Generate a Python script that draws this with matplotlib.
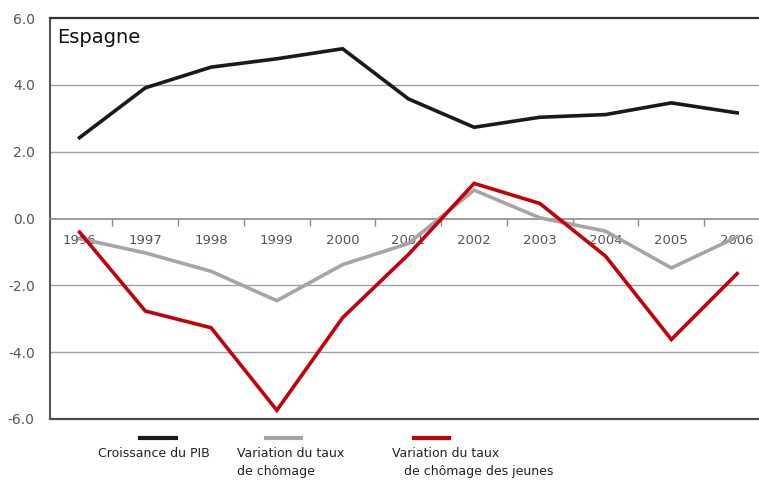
import matplotlib
matplotlib.use("Agg")
import matplotlib.pyplot as plt
from matplotlib.lines import Line2D
import numpy as np

# data
years = ["1996", "1997", "1998", "1999", "2000", "2001",
         "2002", "2003", "2004", "2005", "2006"]
pib = [2.42, 3.91, 4.53, 4.78, 5.08, 3.58, 2.73, 3.03, 3.11, 3.46, 3.16]
chomage = [-0.60, -1.03, -1.58, -2.46, -1.38, -0.75, 0.85, 0.02, -0.38, -1.48, -0.55]
chomage_jeunes = [-0.41, -2.77, -3.27, -5.74, -2.97, -1.08, 1.05, 0.45, -1.13, -3.62, -1.65]

series_labels = ["Croissance du PIB", "Variation du taux\nde chômage",
                 "Variation du taux\n   de chômage des jeunes"]
colors = ["#1a1a1a", "#aaa3a3", "#c4000b"]

W, H = 759, 480
fig = plt.figure(figsize=(W / 100, H / 100), dpi=100)
ax = fig.add_axes([50 / W, (H - 419) / H, 720 / W, 401 / H])

x = np.arange(len(years))
for vals, c in zip([pib, chomage, chomage_jeunes], colors):
    ax.plot(x, vals, color=c, lw=2.6, solid_joinstyle="miter", zorder=3)

ax.set_xlim(-0.45, 10.5)
ax.set_ylim(-6, 6)

# horizontal grid
for yv in [-4, -2, 2, 4]:
    ax.axhline(yv, color="#a0a0a0", lw=1, zorder=1)
ax.axhline(-6, color="#4a4a4a", lw=1.6, zorder=1, clip_on=False)

# x axis drawn on the zero line
ax.spines["bottom"].set_position(("data", 0))
ax.spines["bottom"].set_color("#8a8a8a")
ax.spines["bottom"].set_linewidth(1.2)
ax.spines["right"].set_visible(False)
ax.spines["top"].set_color("#333333")
ax.spines["top"].set_linewidth(1.6)
ax.spines["left"].set_color("#555555")
ax.spines["left"].set_linewidth(1.5)

ax.set_xticks(x[:-1] + 0.5)
ax.set_xticklabels([])
ax.tick_params(axis="x", which="major", length=5, width=1, color="#8a8a8a", direction="out")
ax.set_xticks(x, minor=True)
ax.set_xticklabels(years, minor=True, fontsize=9.5, color="#555555")
ax.tick_params(axis="x", which="minor", length=0, pad=11)

ax.set_yticks(np.arange(-6, 7, 2))
ax.set_yticklabels([f"{v:.1f}" for v in np.arange(-6, 7, 2)], fontsize=10, color="#555555")
ax.tick_params(axis="y", length=0, pad=11)

ax.text(7 / 720, 0.975, "Espagne", transform=ax.transAxes, fontsize=14,
        va="top", ha="left", color="#111111")

# legend below the chart
handles = [(140, 176), (266, 301), (414, 449)]
text_x = [98, 237, 392]
for (x0, x1), tx, lab, c in zip(handles, text_x, series_labels, colors):
    fig.add_artist(Line2D([x0 / W, x1 / W], [1 - 438 / H, 1 - 438 / H],
                          color=c, lw=3, transform=fig.transFigure))
    fig.text(tx / W, 1 - 447 / H, lab, fontsize=9, color="#222222",
             va="top", ha="left", linespacing=1.45)

fig.savefig("out.png", dpi=100)
